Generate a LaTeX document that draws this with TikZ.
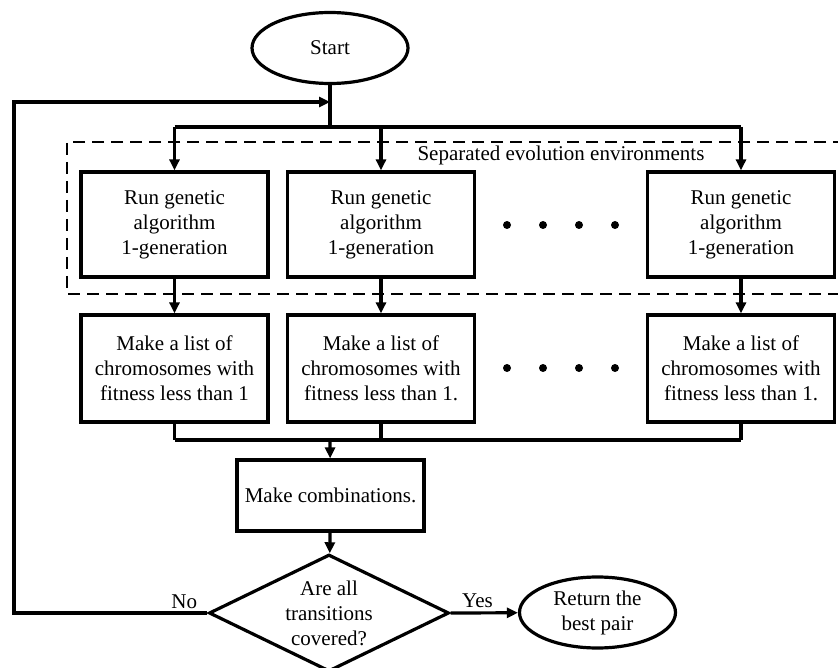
\documentclass[tikz,border=0pt]{standalone}
\usepackage{fontspec}
\setmainfont{Liberation Serif}
\usetikzlibrary{arrows.meta,shapes.geometric}
\begin{document}
\begin{tikzpicture}[x=1pt,y=-1pt,line width=3.2pt,>={Triangle[length=11pt,width=10pt]}]
				\tikzset{every node/.style={font=\fontsize{21}{25}\selectfont,align=center,inner sep=0pt},
					stepbox/.style={draw,rectangle,minimum width=187pt,minimum height=105pt},
					termbox/.style={draw,ellipse,minimum width=156pt,minimum height=71pt},
					testbox/.style={draw,diamond,aspect=2.05,minimum width=240pt,minimum height=117pt}}
				\useasboundingbox (0,0) rectangle (838,668);
				% environments frame
				\draw[line width=2.6pt,dash pattern=on 12pt off 7pt] (845,142)--(67,142)--(67,294)--(845,294);
				\node (envlabel) at (561,155) {Separated evolution environments};
				% nodes
				\node[termbox] (start) at (330,48) {Start};
				\node[stepbox] (run1) at (174.5,224.5) {Run genetic\\algorithm\\1-generation};
				\node[stepbox] (run2) at (381,224.5) {Run genetic\\algorithm\\1-generation};
				\node[stepbox] (run3) at (741,224.5) {Run genetic\\algorithm\\1-generation};
				\node[stepbox,minimum height=107pt] (list1) at (174.5,368.5) {Make a list of\\chromosomes with\\fitness less than 1};
				\node[stepbox,minimum height=107pt] (list2) at (381,368.5) {Make a list of\\chromosomes with\\fitness less than 1.};
				\node[stepbox,minimum height=107pt] (list3) at (741,368.5) {Make a list of\\chromosomes with\\fitness less than 1.};
				\node[stepbox,minimum height=71pt] (comb) at (330.5,495.5) {Make combinations.};
				\node[testbox] (test) at (329,613) {Are all\\transitions\\covered?};
				\node[termbox] (done) at (597.5,612.5) {Return the\\best pair};
				\foreach \x in {507,543,579,615}
				\fill (\x,225) circle (4pt) (\x,368) circle (4pt);
				% connectors
				\coordinate (loop) at (330,102);
				\coordinate (split) at (330,127);
				\coordinate (join) at (330,440);
				\coordinate (border) at (14,102);
				\draw (start)--(split);
				\draw (run1.north |- split)--(run3.north |- split);
				\draw (list1.south |- join)--(list3.south |- join);
				\foreach \i in {1,2,3}{
				\draw[->] (run\i.north |- split)--(run\i);
				\draw[->] (run\i)--(list\i);
				\draw (list\i)--(list\i.south |- join);}
				\draw[->] (join)--(comb);
				\draw[->] (comb)--(test);
				\draw[->] (test.west)--node[pos=0.12,above=3pt]{No} (test.west -| border)--(border)--(loop);
				\draw[->] (test.east)--node[pos=0.4,above=4pt]{Yes} (done);
			\end{tikzpicture}
\end{document}
